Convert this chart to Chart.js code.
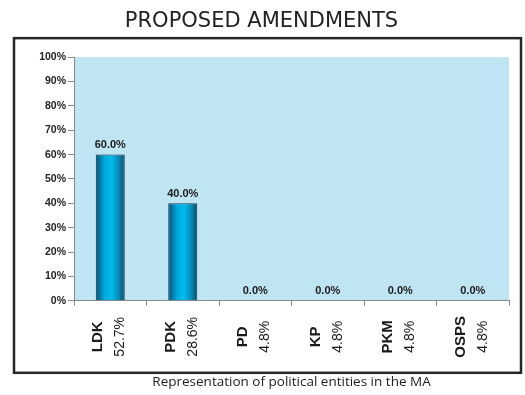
<!DOCTYPE html>
<html lang="en">
<head>
    <meta charset="UTF-8">
    <title>Proposed Amendments</title>
    <style>
        body { margin: 0; background: #fff; }
        #wrap { width: 525px; height: 395px; }
    </style>
    <script src="https://cdn.jsdelivr.net/npm/chart.js"></script>
</head>
<body>
    <div id="wrap"><canvas id="chart"></canvas></div>
    <script>
        // data
        const parties = ['LDK', 'PDK', 'PD', 'KP', 'PKM', 'OSPS'];
        const seatShare = [52.7, 28.6, 4.8, 4.8, 4.8, 4.8];
        const amendmentShare = [60, 40, 0, 0, 0, 0];
        const yTicks = [0, 10, 20, 30, 40, 50, 60, 70, 80, 90, 100];

        const BAR_PCT = 0.4;

        function barGradient(ctx) {
            const chart = ctx.chart;
            if (!chart.chartArea) return '#00aee0';
            const xs = chart.scales.x;
            const cx = xs.getPixelForValue(ctx.dataIndex);
            const w = (xs.width / parties.length) * BAR_PCT;
            const g = chart.ctx.createLinearGradient(cx - w / 2, 0, cx + w / 2, 0);
            g.addColorStop(0, '#0a4f70');
            g.addColorStop(0.3, '#00a8dc');
            g.addColorStop(0.55, '#00bced');
            g.addColorStop(0.8, '#0a86b4');
            g.addColorStop(1, '#0a4a68');
            return g;
        }

        // light blue plot area + outer frame
        const frame = {
            id: 'frame',
            beforeDraw(chart) {
                const c = chart.ctx, a = chart.chartArea;
                c.save();
                c.fillStyle = '#bfe4f2';
                c.fillRect(a.left, a.top, a.right - a.left, a.bottom - a.top);
                c.strokeStyle = '#262626';
                c.lineWidth = 2.5;
                const l = chart.scales.y.left, t = a.top - 19;
                c.strokeRect(l, t, chart.width - 4 - l, chart.scales.x.bottom - t);
                c.restore();
            }
        };

        // value labels on bars
        const valueLabels = {
            id: 'valueLabels',
            afterDatasetsDraw(chart) {
                const c = chart.ctx;
                const meta = chart.getDatasetMeta(0);
                c.save();
                c.font = 'bold 11px "Liberation Sans", Arial, sans-serif';
                c.fillStyle = '#1a1a1a';
                c.textAlign = 'center';
                c.textBaseline = 'bottom';
                meta.data.forEach((bar, i) => {
                    c.fillText(amendmentShare[i].toFixed(1) + '%', bar.x, bar.y - 4);
                });
                c.restore();
            }
        };

        // rotated two-part category labels
        const catLabels = {
            id: 'catLabels',
            afterDraw(chart) {
                const c = chart.ctx, xs = chart.scales.x;
                const cy = xs.top + 36;
                c.save();
                c.fillStyle = '#1a1a1a';
                c.textAlign = 'center';
                c.textBaseline = 'middle';
                parties.forEach((p, i) => {
                    const x = xs.getPixelForValue(i);
                    c.save();
                    c.translate(x - 12, cy);
                    c.rotate(-Math.PI / 2);
                    c.font = 'bold 15px "Liberation Sans", Arial, sans-serif';
                    c.fillText(p, 0, 0);
                    c.restore();
                    c.save();
                    c.translate(x + 10, cy);
                    c.rotate(-Math.PI / 2);
                    c.font = '14px "Liberation Sans", Arial, sans-serif';
                    c.fillText(seatShare[i].toFixed(1) + '%', 0, 0);
                    c.restore();
                });
                c.restore();
            }
        };

        new Chart(document.getElementById('chart'), {
            type: 'bar',
            data: {
                labels: parties,
                datasets: [{
                    data: amendmentShare,
                    backgroundColor: barGradient,
                    borderColor: '#0d3447',
                    borderWidth: 1,
                    categoryPercentage: 1,
                    barPercentage: BAR_PCT
                }]
            },
            options: {
                responsive: true,
                maintainAspectRatio: false,
                animation: false,
                layout: { padding: { left: 14, right: 16, top: 0, bottom: 0 } },
                plugins: {
                    legend: { display: false },
                    tooltip: { enabled: false },
                    title: {
                        display: true,
                        text: 'PROPOSED AMENDMENTS',
                        color: '#222',
                        font: { family: '"DejaVu Sans", sans-serif', size: 21, weight: 'normal', lineHeight: 1.15 },
                        padding: { top: 9, bottom: 24 }
                    },
                    subtitle: {
                        display: true,
                        position: 'bottom',
                        fullSize: false,
                        text: 'Representation of political entities in the MA',
                        color: '#222',
                        font: { family: '"Open Sans", sans-serif', size: 13.5 },
                        padding: { top: 1, bottom: 5 }
                    }
                },
                scales: {
                    x: {
                        grid: { drawOnChartArea: false, drawTicks: true, tickLength: 5, color: '#888' },
                        border: { color: '#888' },
                        ticks: { display: false },
                        afterFit(scale) { scale.height = 72; }
                    },
                    y: {
                        min: 0,
                        max: 100,
                        afterBuildTicks(scale) { scale.ticks = yTicks.map(v => ({ value: v })); },
                        grid: { drawOnChartArea: false, drawTicks: true, tickLength: 6, color: '#888' },
                        border: { color: '#888' },
                        ticks: {
                            padding: 2,
                            color: '#222',
                            font: { family: '"Liberation Sans", Arial, sans-serif', size: 10.5, weight: 'bold' },
                            callback: v => v + '%'
                        },
                        afterFit(scale) { scale.width = 60; }
                    }
                }
            },
            plugins: [frame, valueLabels, catLabels]
        });
    </script>
</body>
</html>
